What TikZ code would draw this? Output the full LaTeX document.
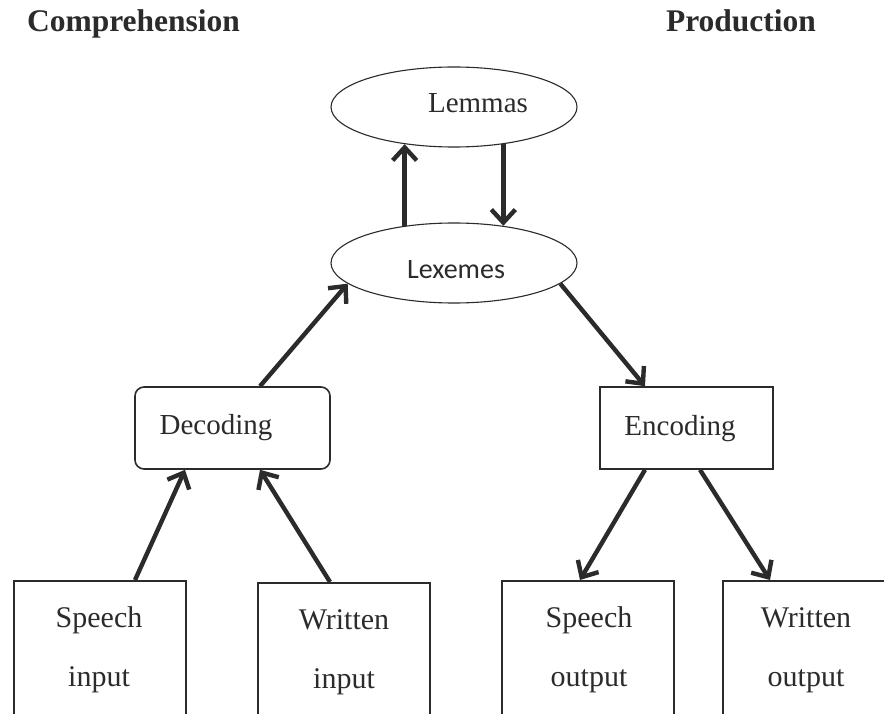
\documentclass[tikz,border=0pt]{standalone}
\usepackage{fontspec}
\setmainfont{Liberation Serif}
\newfontfamily\lexfont{Carlito}
\usetikzlibrary{arrows.meta,shapes.geometric,calc}
\definecolor{ink}{HTML}{2B2B2B}
\tikzset{
  arr/.style={draw=ink, line width=4.4pt, -{Straight Barb[length=13pt,width=24pt,line width=4.4pt]}},
  ell/.style={draw=ink, ellipse, line width=1.1pt, inner sep=0pt, minimum width=246pt, minimum height=80pt},
  box/.style={draw=ink, rectangle, line width=1.6pt, inner sep=0pt},
  rbox/.style={box, rounded corners=9pt},
  lbl/.style={font=\fontsize{29}{32}\selectfont, text=ink, inner sep=0pt, anchor=base},
  btxt/.style={font=\fontsize{30}{32}\selectfont, text=ink, inner sep=0pt, anchor=base},
  ttl/.style={font=\fontsize{31.5}{34}\selectfont\bfseries, text=ink, inner sep=0pt, anchor=base},
}
\begin{document}
\begin{tikzpicture}[x=1pt,y=-1pt]
\useasboundingbox (0,0) rectangle (884,714);
\clip (0,0) rectangle (884,714);
\fill[white] (0,0) rectangle (884,714);
% titles
\node[ttl] (tc) at (133.5,32) {Comprehension};
\node[ttl] (tp) at (741,32) {Production};
% ellipses
\node[ell] (lem) at (454,107) {};
\node[lbl] (lemt) at (478,113) {Lemmas};
\node[ell] (lex) at (454,263) {};
\node[lbl, font=\lexfont\fontsize{28}{30}\selectfont] (lext) at (456,279) {Lexemes};
% middle boxes
\node[rbox, minimum width=195pt, minimum height=82pt] (dec) at (232.5,428) {};
\node[lbl] (dect) at (216,434) {Decoding};
\node[box, minimum width=173pt, minimum height=82pt] (enc) at (686.5,428) {};
\node[lbl] (enct) at (680,435) {Encoding};
% bottom boxes
\node[box, minimum width=172pt, minimum height=170pt, anchor=north] (si) at (100,580) {};
\node[box, minimum width=172pt, minimum height=170pt, anchor=north] (wi) at (344,582) {};
\node[box, minimum width=172pt, minimum height=170pt, anchor=north] (so) at (588,580) {};
\node[box, minimum width=172pt, minimum height=170pt, anchor=north] (wo) at (809,580) {};
\node[btxt] (si1) at (99,627) {Speech};
\node[btxt] (si2) at (99,686) {input};
\node[btxt] (wi1) at (344,629) {Written};
\node[btxt] (wi2) at (344,688) {input};
\node[btxt] (so1) at (589,627) {Speech};
\node[btxt] (so2) at (589,686) {output};
\node[btxt] (wo1) at (806,627) {Written};
\node[btxt] (wo2) at (806,686) {output};
% arrows
\draw[arr] (lex.143) -- (lem.217);
\draw[arr] (lem.323) -- (lex.37);
\draw[arr] ($(dec.north)+(27.5,0)$) -- (lex.191);
\draw[arr] (lex.349) -- ($(enc.north)+(-41.5,0)$);
\draw[arr] ($(si.north)+(35,0)$) -- ($(dec.south)+(-47.5,0)$);
\draw[arr] ($(wi.north)+(-14,0)$) -- ($(dec.south)+(27.5,0)$);
\draw[arr] ($(enc.south)+(-41.5,0)$) -- ($(so.north)+(-8,0)$);
\draw[arr] ($(enc.south)+(13.5,0)$) -- ($(wo.north)+(-39,0)$);
\end{tikzpicture}
\end{document}
